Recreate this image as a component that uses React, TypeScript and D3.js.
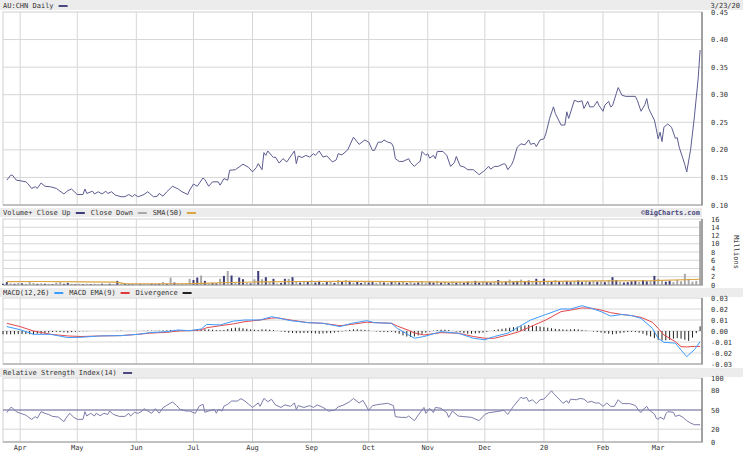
import React from 'react';
import * as d3 from 'd3';

const W = 743;
const H = 452;

const startDate = new Date(2019, 2, 23);
const endDate = new Date(2020, 2, 24);
const monthLabels = ['Apr', 'May', 'Jun', 'Jul', 'Aug', 'Sep', 'Oct', 'Nov', 'Dec', '20', 'Feb', 'Mar'];

const priceTicks = [0.1, 0.15, 0.2, 0.25, 0.3, 0.35, 0.4, 0.45];
const volumeTicks = [0, 2, 4, 6, 8, 10, 12, 14, 16];
const macdTicks = [-0.03, -0.02, -0.01, 0, 0.01, 0.02, 0.03];
const rsiTicks = [0, 20, 50, 80, 100];

// [days since 2019-03-23, close]
const priceClose: [number, number][] = [
  [2, 0.145], [4, 0.154], [5, 0.154], [7, 0.145], [9, 0.144], [12, 0.142], [13, 0.139], [15, 0.13], [17, 0.133], [18, 0.13],
  [20, 0.14], [22, 0.134], [25, 0.133], [28, 0.13], [32, 0.12], [34, 0.126], [36, 0.129], [39, 0.119], [42, 0.119], [43, 0.129],
  [44, 0.121], [47, 0.125], [48, 0.12], [50, 0.124], [52, 0.12], [54, 0.125], [55, 0.121], [57, 0.124], [59, 0.118], [62, 0.115],
  [64, 0.115], [66, 0.119], [68, 0.115], [69, 0.119], [71, 0.115], [74, 0.119], [76, 0.124], [77, 0.121], [79, 0.115], [81, 0.116],
  [82, 0.121], [84, 0.116], [86, 0.124], [89, 0.134], [92, 0.129], [94, 0.124], [97, 0.119], [98, 0.127], [100, 0.138], [102, 0.134],
  [105, 0.149], [106, 0.146], [108, 0.134], [110, 0.142], [113, 0.142], [114, 0.136], [116, 0.148], [118, 0.145], [119, 0.163], [122, 0.164],
  [126, 0.174], [129, 0.168], [131, 0.16], [133, 0.168], [134, 0.175], [136, 0.164], [137, 0.195], [138, 0.19], [139, 0.198], [142, 0.186],
  [143, 0.187], [145, 0.176], [147, 0.184], [149, 0.178], [153, 0.198], [154, 0.175], [155, 0.189], [157, 0.186], [159, 0.19], [161, 0.187],
  [163, 0.193], [164, 0.19], [166, 0.198], [168, 0.187], [170, 0.189], [173, 0.178], [175, 0.182], [176, 0.193], [178, 0.191], [181, 0.2],
  [184, 0.223], [187, 0.21], [190, 0.218], [192, 0.214], [194, 0.199], [195, 0.199], [197, 0.214], [199, 0.214], [200, 0.218], [202, 0.214],
  [204, 0.212], [205, 0.205], [206, 0.184], [208, 0.179], [210, 0.179], [213, 0.184], [214, 0.177], [216, 0.17], [218, 0.177], [219, 0.179],
  [220, 0.197], [222, 0.19], [223, 0.193], [224, 0.185], [226, 0.19], [227, 0.184], [228, 0.197], [231, 0.197], [233, 0.19], [235, 0.17],
  [237, 0.177], [238, 0.188], [240, 0.171], [242, 0.169], [244, 0.164], [247, 0.164], [249, 0.158], [250, 0.155], [253, 0.163], [255, 0.17],
  [256, 0.165], [258, 0.17], [260, 0.17], [263, 0.175], [264, 0.173], [265, 0.164], [267, 0.173], [268, 0.181], [270, 0.205], [272, 0.211],
  [274, 0.209], [276, 0.218], [277, 0.21], [279, 0.212], [280, 0.206], [282, 0.218], [284, 0.22], [285, 0.229], [287, 0.257], [289, 0.278],
  [290, 0.266], [293, 0.245], [295, 0.245], [296, 0.269], [297, 0.257], [300, 0.29], [302, 0.287], [304, 0.289], [305, 0.275], [307, 0.288],
  [308, 0.278], [310, 0.278], [312, 0.288], [313, 0.28], [315, 0.27], [316, 0.281], [318, 0.288], [319, 0.278], [320, 0.28], [322, 0.302],
  [323, 0.313], [325, 0.299], [327, 0.297], [332, 0.297], [333, 0.29], [335, 0.27], [337, 0.282], [338, 0.293], [339, 0.275], [342, 0.254],
  [343, 0.238], [344, 0.22], [345, 0.232], [346, 0.215], [347, 0.241], [349, 0.247], [351, 0.241], [353, 0.221], [354, 0.222], [355, 0.205],
  [357, 0.184], [358, 0.173], [359, 0.16], [361, 0.2], [363, 0.26], [365, 0.33], [366, 0.381],
];

// millions, one bar every 2 days from startDate
const volumeMillions = [
  0.3, 0.7, 0.4, 0.3, 0.5, 0.4, 0.3, 0.7, 0.5, 0.3,
  0.4, 0.3, 0.3, 0.2, 0.6, 0.7, 0.3, 0.5, 0.3, 0.2,
  0.3, 0.2, 0.3, 0.2, 0.3, 0.2, 0.3, 0.2, 0.3, 0.2,
  1.0, 0.2, 0.3, 0.2, 0.2, 0.3, 0.2, 0.3, 0.2, 0.3,
  0.2, 0.3, 0.7, 0.3, 1.8, 0.6, 0.3, 0.4, 0.2, 1.5,
  1.2, 1.8, 2.3, 1.0, 0.4, 0.5, 0.4, 1.5, 2.2, 3.4,
  2.3, 0.5, 1.8, 1.4, 0.6, 0.4, 1.4, 3.4, 1.4, 1.9,
  0.7, 1.5, 0.4, 0.5, 1.5, 1.5, 1.9, 0.8, 0.6, 1.0,
  0.8, 1.1, 0.6, 1.0, 0.5, 0.7, 0.9, 0.5, 1.2, 0.8,
  1.2, 1.0, 0.6, 0.8, 0.5, 0.9, 0.6, 0.7, 0.5, 0.8,
  0.6, 0.5, 0.9, 1.0, 0.6, 0.8, 0.5, 0.7, 0.4, 0.6,
  0.9, 0.5, 0.8, 0.6, 1.0, 0.6, 0.8, 0.5, 0.9, 0.6,
  0.7, 0.5, 0.8, 0.6, 1.0, 0.6, 0.9, 0.7, 0.6, 0.8,
  1.2, 0.7, 0.9, 1.3, 0.8, 1.0, 1.3, 0.8, 1.1, 0.7,
  1.5, 0.9, 1.5, 1.0, 0.8, 1.2, 0.9, 0.8, 1.0, 0.7,
  0.9, 1.1, 0.7, 1.0, 0.8, 1.0, 0.8, 0.9, 0.7, 1.2,
  1.9, 1.2, 0.8, 0.6, 0.7, 0.9, 1.0, 0.8, 1.2, 0.9,
  1.0, 2.2, 1.5, 1.2, 0.8, 1.0, 0.7, 1.2, 0.9, 2.7,
  1.5, 0.8, 1.0, 15.5,
];
// u = close up, d = close down
const volumeDir =
  'uudududddudududduududududdudududuuududd' +
  'uuudududddduududuudududuudududududuudud' +
  'ududuudududududuuduuddududududuudduudud' +
  'ududuuduuduudududuuduudududududuuduudud' +
  'ududuuduuuuduududduud';

const volumeSma: [number, number][] = [
  [2, 0.8], [19, 0.85], [43, 0.75], [59, 0.7], [64, 0.35], [93, 0.3], [104, 0.4], [119, 0.6], [135, 0.75],
  [156, 0.85], [183, 0.9], [209, 0.8], [235, 0.7], [262, 0.75], [288, 0.9], [314, 1.0], [341, 1.05], [366, 1.4],
];

const macdLine: [number, number][] = [
  [2, 0.004], [9, 0.0012], [16, -0.003], [25, -0.003], [34, -0.006], [41, -0.0057], [51, -0.0045], [62, -0.0042],
  [71, -0.003], [77, -0.0015], [86, -0.0006], [92, 0.0009], [98, 0.0003], [104, 0.0018], [107, 0.006], [114, 0.0055],
  [121, 0.009], [127, 0.01], [135, 0.01], [141, 0.013], [144, 0.012], [151, 0.0094], [160, 0.0076], [168, 0.007],
  [177, 0.004], [183, 0.007], [191, 0.0094], [195, 0.0076], [204, 0.007], [207, 0.0024], [213, -0.0036], [216, -0.0066],
  [221, -0.005], [230, -0.0006], [239, -0.002], [247, -0.0066], [253, -0.008], [258, -0.005], [265, -0.002], [271, 0.004],
  [277, 0.01], [285, 0.015], [293, 0.02], [298, 0.02], [304, 0.023], [309, 0.0206], [314, 0.0176], [319, 0.0136],
  [325, 0.015], [330, 0.014], [335, 0.0115], [341, 0.0024], [344, -0.0067], [347, -0.0103], [353, -0.011], [356, -0.0173],
  [359, -0.0233], [363, -0.017], [366, -0.0097],
];

const macdSignal: [number, number][] = [
  [2, 0.007], [9, 0.004], [16, 0], [25, -0.003], [34, -0.0045], [41, -0.005], [51, -0.0045], [62, -0.0042],
  [71, -0.003], [77, -0.002], [86, -0.0012], [92, 0], [98, 0.0003], [104, 0.001], [107, 0.003], [114, 0.0048],
  [121, 0.0065], [127, 0.0085], [135, 0.01], [141, 0.0117], [144, 0.012], [151, 0.01], [160, 0.0076], [168, 0.007],
  [177, 0.0048], [183, 0.006], [191, 0.008], [195, 0.0076], [204, 0.007], [207, 0.0045], [213, 0.0006], [216, -0.0018],
  [221, -0.0036], [230, -0.0015], [239, -0.002], [247, -0.005], [253, -0.0066], [258, -0.0066], [265, -0.0036], [271, -0.0006],
  [277, 0.004], [285, 0.01], [293, 0.0176], [298, 0.019], [304, 0.021], [309, 0.0206], [314, 0.019], [319, 0.0167],
  [325, 0.015], [330, 0.014], [335, 0.0124], [341, 0.0079], [344, 0.0024], [347, -0.0036], [353, -0.0097], [356, -0.0142],
  [359, -0.0145], [363, -0.014], [366, -0.014],
];

// one bar every 2 days from startDate
const macdDivergence = [
  -0.003, -0.003, -0.003, -0.003, -0.0028, -0.0028, -0.0028, -0.003, -0.003, -0.0025,
  -0.0025, -0.002, -0.0015, -0.001, -0.0008, -0.001, -0.0012, -0.0015, -0.001, -0.0007,
  -0.0005, -0.0003, -0.0002, 0, 0, 0, 0, 0, 0, 0,
  0.0002, 0.0003, 0, 0, 0, 0, 0, 0.0002, 0.0004, 0.0003,
  0.0002, 0.0003, 0.0005, 0.0006, 0.0008, 0.001, 0.0008, 0.0005, 0.0002, 0.0003,
  0.0008, 0.0012, 0.0015, 0.0016, 0.0015, 0.0012, 0.0008, 0.0007, 0.001, 0.0018,
  0.0025, 0.003, 0.003, 0.0025, 0.002, 0.0015, 0.0012, 0.001, 0.0015, 0.0015,
  0.0012, 0.0008, 0.0002, -0.0005, -0.001, -0.0015, -0.0018, -0.002, -0.002, -0.0018,
  -0.0018, -0.002, -0.0022, -0.0025, -0.0022, -0.002, -0.002, -0.0015, -0.001, -0.0005,
  0.0005, 0.001, 0.0015, 0.0015, 0.0012, 0.001, 0.0005, 0, -0.0005, -0.0008,
  -0.001, -0.001, -0.0008, -0.0015, -0.0025, -0.004, -0.005, -0.0055, -0.005, -0.004,
  -0.0025, -0.0015, -0.0005, 0.0003, 0.0008, 0.0012, 0.0012, 0.0008, 0, -0.0005,
  -0.0012, -0.002, -0.0025, -0.0025, -0.0022, -0.002, -0.0015, -0.0008, 0, 0.0008,
  0.0015, 0.002, 0.0025, 0.003, 0.0035, 0.004, 0.0045, 0.005, 0.0055, 0.005,
  0.0045, 0.004, 0.0035, 0.003, 0.0025, 0.002, 0.0018, 0.0015, 0.0012, 0.0015,
  0.0018, 0.0015, 0.001, 0.0005, 0, -0.0005, -0.001, -0.0015, -0.002, -0.0025,
  -0.003, -0.0025, -0.002, -0.0015, -0.001, -0.0008, -0.001, -0.0015, -0.0025, -0.004,
  -0.005, -0.0065, -0.008, -0.0085, -0.0085, -0.008, -0.007, -0.0065, -0.007, -0.008,
  -0.009, -0.006, -0.002, 0.0043,
];

const rsiLine: [number, number][] = [
  [2, 46], [4, 54], [5, 53], [7, 47.5], [9, 45], [12, 42], [13, 39.6], [15, 35.4], [17, 39.6], [18, 37],
  [20, 47.4], [22, 44.8], [24, 43], [26, 40], [29, 39], [32, 31.8], [33, 37], [35, 44.8], [37, 39], [39, 35.4],
  [42, 35.4], [43, 47.4], [44, 40.6], [46, 44.8], [48, 40.6], [49, 45], [51, 41], [53, 44.8], [55, 43], [56, 48.4],
  [58, 43], [61, 40], [64, 40], [66, 44.8], [67, 40.6], [69, 46.4], [71, 44.8], [73, 48.4], [74, 52], [76, 48.4],
  [78, 44.8], [80, 52], [82, 45], [84, 53.6], [86, 57.3], [89, 62.5], [91, 57.3], [93, 51], [96, 48.4], [98, 48.4],
  [101, 44.8], [103, 56], [105, 59], [106, 46.4], [108, 48.4], [111, 51], [112, 45], [113, 51], [115, 48.4], [116, 56],
  [118, 59], [120, 64], [123, 64], [125, 67.7], [127, 64], [129, 59], [131, 54], [134, 61], [135, 55.7], [137, 68],
  [139, 63], [141, 66.7], [143, 58], [146, 54], [148, 58], [151, 55.7], [153, 61], [154, 51], [155, 56.8], [158, 54],
  [161, 56.8], [163, 54], [165, 58], [168, 54], [171, 48.4], [174, 49.5], [176, 55], [179, 58], [182, 63], [184, 68],
  [187, 61], [189, 65], [192, 49.5], [194, 56.8], [196, 58], [198, 59], [202, 60.4], [205, 56.8], [206, 39.6], [209, 38.5],
  [212, 38.5], [213, 40.6], [216, 33.3], [218, 42], [221, 54], [222, 44.8], [224, 52.6], [226, 45.8], [227, 54], [230, 52.6],
  [233, 45.8], [234, 38.5], [236, 48.4], [239, 40.6], [242, 39.6], [246, 38.5], [250, 33.3], [253, 43], [255, 45.8], [259, 47.4],
  [261, 48.4], [263, 49.5], [265, 43], [268, 55.7], [271, 66.7], [272, 70], [273, 68], [275, 69.5], [276, 63.5], [278, 66],
  [280, 60], [282, 66], [284, 67], [286, 73.5], [288, 80], [289, 76], [292, 67], [294, 60.4], [296, 64.6], [297, 60.4],
  [298, 67], [301, 66], [303, 68], [305, 67], [307, 62], [309, 63.5], [311, 61], [313, 61], [315, 55.7], [317, 61],
  [319, 55.7], [321, 55.7], [323, 66], [325, 60], [329, 60], [332, 57], [334, 48.4], [335, 46], [336, 50.5], [338, 55.7],
  [339, 50.5], [342, 43.8], [343, 37], [344, 35.4], [345, 39], [347, 35.4], [348, 43.8], [349, 47.4], [352, 46.4], [353, 40],
  [355, 42], [357, 38.5], [359, 33.3], [361, 29.6], [363, 27], [366, 27],
];

const FONT = '"DejaVu Sans Mono", monospace';
const TEXT = '#333';
const GRID = '#d6d6d6';
const BAND = '#ececec';
const CW = 4.3; // approx char advance of header text

const left = 3;
const right = 702;

const panels = {
  price: { top: 12, bottom: 205 },
  volume: { top: 219, bottom: 285 },
  macd: { top: 298, bottom: 364 },
  rsi: { top: 378, bottom: 442 },
};

const x = d3.scaleTime().domain([startDate, endDate]).range([left, right]);
const dayDate = (d: number) => d3.timeDay.offset(startDate, d);
const monthTicks = d3.timeMonth.range(new Date(2019, 3, 1), new Date(2020, 2, 2));

const yPrice = d3.scaleLinear().domain([0.1, 0.45]).range([panels.price.bottom, panels.price.top]);
const yVol = d3.scaleLinear().domain([0, 16]).range([panels.volume.bottom, panels.volume.top]);
const yMacd = d3.scaleLinear().domain([-0.03, 0.03]).range([panels.macd.bottom, panels.macd.top]);
const yRsi = d3.scaleLinear().domain([0, 100]).range([panels.rsi.bottom, panels.rsi.top]);

const lineOf = (y: d3.ScaleLinear<number, number>) =>
  d3.line<[number, number]>().x(d => x(dayDate(d[0]))).y(d => y(d[1]));

type LegendItem = { label: string; color: string };

const Header = ({ y0, y1, width, items }: { y0: number; y1: number; width: number; items: LegendItem[] }) => {
  let cursor = left;
  const parts: React.ReactNode[] = [];
  items.forEach((it, i) => {
    const tx = cursor;
    cursor += it.label.length * CW + 4;
    parts.push(
      <text key={'t' + i} x={tx} y={y1 - 2} fontSize={7} fontFamily={FONT} fill={TEXT}>{it.label}</text>
    );
    parts.push(<rect key={'s' + i} x={cursor} y={y1 - 5} width={9} height={2} fill={it.color} />);
    cursor += 9 + 6;
  });
  return (
    <g>
      <rect x={0} y={y0} width={width} height={y1 - y0} fill={BAND} />
      {parts}
    </g>
  );
};

const Frame = ({ top, bottom, grid, y }: { top: number; bottom: number; grid: number[]; y: (v: number) => number }) => (
  <g>
    <rect x={left} y={top} width={right - left} height={bottom - top} fill="#fff" stroke="#cfcfcf" strokeWidth={1} />
    {grid.map(v => (
      <line key={'h' + v} x1={left} x2={right} y1={y(v)} y2={y(v)} stroke={GRID} strokeWidth={1} />
    ))}
    {monthTicks.map((m, i) => (
      <line key={'v' + i} x1={x(m)} x2={x(m)} y1={top} y2={bottom} stroke={GRID} strokeWidth={1} />
    ))}
  </g>
);

const FrameEdges = ({ top, bottom }: { top: number; bottom: number }) => (
  <g>
    <line x1={left} x2={right + 1} y1={bottom} y2={bottom} stroke="#9a9a9a" strokeWidth={1} />
    <line x1={right} x2={right} y1={top} y2={bottom} stroke="#8a8a8a" strokeWidth={1.5} />
  </g>
);

const AxisLabels = ({ ticks, y, fmt }: { ticks: number[]; y: (v: number) => number; fmt: (v: number) => string }) => (
  <g>
    {ticks.map(v => (
      <text key={v} x={711} y={y(v) + 2.5} fontSize={7} fontFamily={FONT} fill={TEXT}>{fmt(v)}</text>
    ))}
  </g>
);

export default function App() {
  const volDate = (i: number) => dayDate(i * 2);
  const divBars = macdDivergence.map((v, i) => ({ v, t: dayDate(i * 2) }));

  return (
    <svg width={W} height={H} viewBox={`0 0 ${W} ${H}`} style={{ position: 'absolute', left: 0, top: 0, background: '#fff' }}>
      <rect x={0} y={0} width={W} height={H} fill="#fff" />

      {/* price panel */}
      <Header y0={0} y1={10} width={W} items={[{ label: 'AU:CHN Daily', color: '#4a4a80' }]} />
      <text x={740} y={8} fontSize={7} fontFamily={FONT} fill={TEXT} textAnchor="end">3/23/20</text>
      <Frame top={panels.price.top} bottom={panels.price.bottom} grid={priceTicks.slice(1, -1)} y={yPrice} />
      <path d={lineOf(yPrice)(priceClose) || ''} fill="none" stroke="#5c5c90" strokeWidth={1} />
      <FrameEdges top={panels.price.top} bottom={panels.price.bottom} />
      <AxisLabels ticks={priceTicks} y={yPrice} fmt={v => v.toFixed(2)} />

      {/* volume panel */}
      <Header
        y0={208}
        y1={217}
        width={right}
        items={[
          { label: 'Volume+ Close Up', color: '#3c3c7a' },
          { label: 'Close Down', color: '#a8a8a8' },
          { label: 'SMA(50)', color: '#d9a441' },
        ]}
      />
      <text x={700} y={215} fontSize={7} fontFamily={FONT} fontWeight="bold" fill="#4a4a7e" textAnchor="end">©BigCharts.com</text>
      <Frame top={panels.volume.top} bottom={panels.volume.bottom} grid={volumeTicks.slice(1, -1)} y={yVol} />
      {volumeMillions.map((v, i) => (
        <rect
          key={i}
          x={x(volDate(i)) - 1}
          y={yVol(v)}
          width={2}
          height={yVol(0) - yVol(v)}
          fill={volumeDir[i] === 'u' ? '#3c3c7a' : '#a8a8a8'}
        />
      ))}
      <path d={lineOf(yVol)(volumeSma) || ''} fill="none" stroke="#d9a441" strokeWidth={1.2} />
      <FrameEdges top={panels.volume.top} bottom={panels.volume.bottom} />
      <AxisLabels ticks={volumeTicks} y={yVol} fmt={v => String(v)} />
      <text
        x={0}
        y={0}
        transform="translate(734,252) rotate(90)"
        fontSize={7}
        fontFamily={FONT}
        fill={TEXT}
        textAnchor="middle"
      >
        Millions
      </text>

      {/* MACD panel */}
      <Header
        y0={288}
        y1={297}
        width={W}
        items={[
          { label: 'MACD(12,26)', color: '#3d9cff' },
          { label: 'MACD EMA(9)', color: '#e0393b' },
          { label: 'Divergence', color: '#222' },
        ]}
      />
      <Frame top={panels.macd.top} bottom={panels.macd.bottom} grid={[-0.02, -0.01, 0, 0.01, 0.02]} y={yMacd} />
      {divBars.map((b, i) => (
        <line
          key={i}
          x1={x(b.t)}
          x2={x(b.t)}
          y1={yMacd(0)}
          y2={yMacd(b.v)}
          stroke="#222"
          strokeWidth={1}
        />
      ))}
      <path d={lineOf(yMacd)(macdSignal) || ''} fill="none" stroke="#e4474a" strokeWidth={1} />
      <path d={lineOf(yMacd)(macdLine) || ''} fill="none" stroke="#3d9cff" strokeWidth={1} />
      <FrameEdges top={panels.macd.top} bottom={panels.macd.bottom} />
      <AxisLabels ticks={macdTicks} y={yMacd} fmt={v => v.toFixed(2)} />

      {/* RSI panel */}
      <Header y0={368} y1={377} width={W} items={[{ label: 'Relative Strength Index(14)', color: '#4a4a80' }]} />
      <Frame top={panels.rsi.top} bottom={panels.rsi.bottom} grid={[20, 80]} y={yRsi} />
      <line x1={left} x2={right} y1={yRsi(50)} y2={yRsi(50)} stroke="#5a5a8e" strokeWidth={1} />
      <path d={lineOf(yRsi)(rsiLine) || ''} fill="none" stroke="#7c7cab" strokeWidth={1} />
      <FrameEdges top={panels.rsi.top} bottom={panels.rsi.bottom} />
      <AxisLabels ticks={rsiTicks} y={yRsi} fmt={v => String(v)} />

      {/* month labels */}
      {monthTicks.map((m, i) => (
        <text key={i} x={x(m)} y={450} fontSize={7} fontFamily={FONT} fill={TEXT} textAnchor="middle">
          {monthLabels[i]}
        </text>
      ))}
    </svg>
  );
}
